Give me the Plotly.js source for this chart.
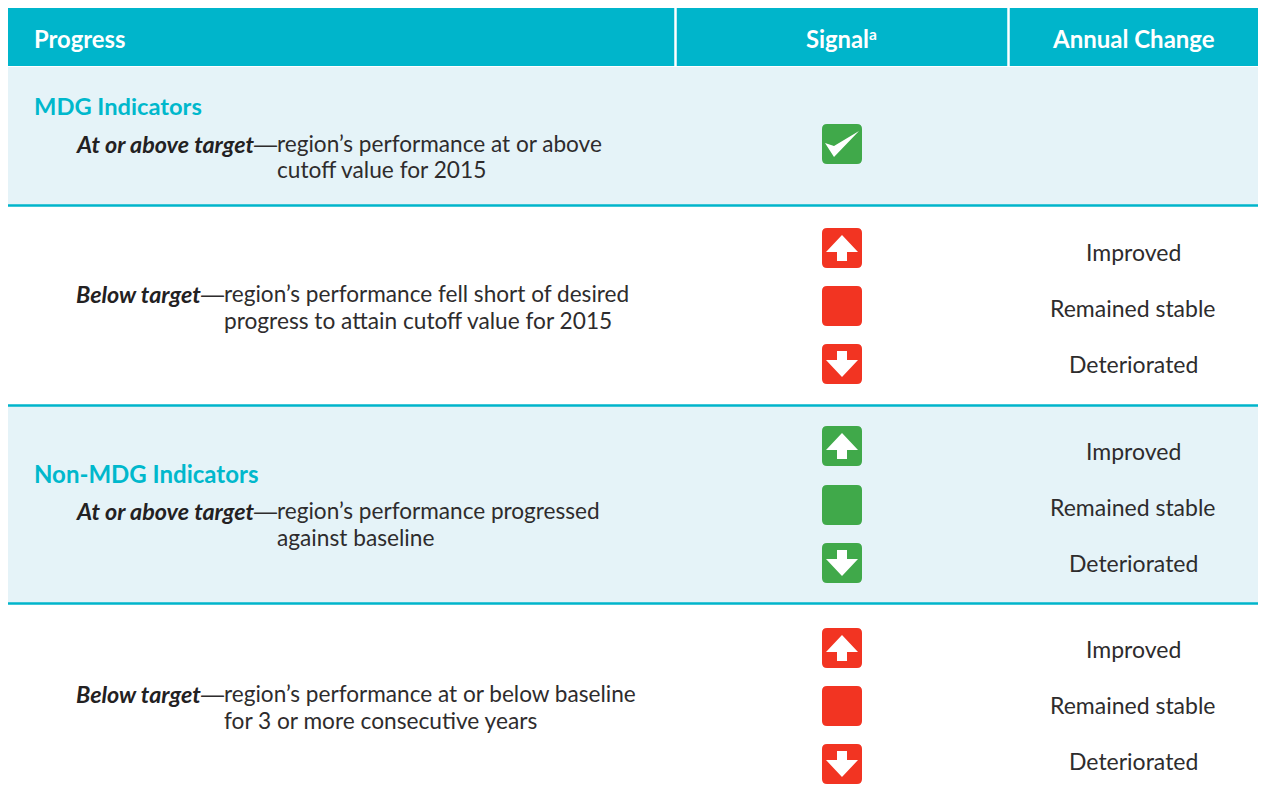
<!DOCTYPE html>
<html><head><meta charset="utf-8">
<script src="https://cdn.plot.ly/plotly-3.0.1.min.js"></script>
<style>html,body{margin:0;padding:0;background:#fff}#c{width:1261px;height:803px}</style>
</head><body><div id="c"></div>
<script>
// ---- content ----
const headers = ["Progress", "Signal", "Annual Change"];
const headerNote = "a";
const groupTitles = ["MDG Indicators", "Non-MDG Indicators"];
const statusLabels = ["At or above target", "Below target", "At or above target", "Below target"];
const statusLine1 = ["region’s performance at or above", "region’s performance fell short of desired", "region’s performance progressed", "region’s performance at or below baseline"];
const statusLine2 = ["cutoff value for 2015", "progress to attain cutoff value for 2015", "against baseline", "for 3 or more consecutive years"];
const changes = ["Improved", "Remained stable", "Deteriorated"];
const sectionSignals = [["check"], ["up", "flat", "down"], ["up", "flat", "down"], ["up", "flat", "down"]];
const sectionColors = ["green", "red", "green", "red"];

// ---- layout constants (page geometry) ----
const P = {left:8, right:1258, headTop:8, headBot:66, col1:675.5, col2:1008.5, iconX:842, iconHalf:20, changeX:1133};
const sectTop = [67, 206, 406, 604];
const sectBot = [205, 405, 603, 803];
const iconY = [[144], [248, 306, 364], [446, 505, 563], [648, 706, 764]];
const changeY = [[], [251.5, 307.5, 363.5], [450.5, 506.5, 562.5], [648.5, 704.5, 760.5]];
const titleY = [105.5, 473.5];
const line1Y = [143.5, 293.5, 510.5, 693.5];
const line2Y = [169.5, 320.5, 537.5, 720.5];
const labelX = 75;
const bodyX = [276, 223, 276, 223];
const C = {teal:"#00B5CB", band:"#E5F3F8", ink:"#2E2C2D", green:"#40A94A", red:"#F23422", title:"#00B8CC"};
const FONT = "Lato, sans-serif";

const shapes = [];
const rect = (x0,y0,x1,y1,fill)=>shapes.push({type:"rect",xref:"x",yref:"y",x0,y0,x1,y1,fillcolor:fill,line:{width:0},layer:"below"});
const hline = (y,w,color)=>shapes.push({type:"line",xref:"x",yref:"y",x0:P.left,x1:P.right,y0:y,y1:y,line:{color,width:w},layer:"above"});
const poly = (pts,fill)=>shapes.push({type:"path",xref:"x",yref:"y",path:"M"+pts.map(p=>p.join(",")).join("L")+"Z",fillcolor:fill,line:{width:0},layer:"above"});

rect(P.left,P.headTop,P.right,P.headBot,C.teal);
[P.col1,P.col2].forEach(x=>shapes.push({type:"line",xref:"x",yref:"y",x0:x,x1:x,y0:P.headTop,y1:P.headBot,line:{color:"#fff",width:2.5},layer:"above"}));
rect(P.left,sectTop[0],P.right,sectBot[0],C.band);
rect(P.left,sectTop[2],P.right,sectBot[2],C.band);
[205.5,405.5,603.5].forEach(y=>hline(y,2.5,C.teal));

function icon(cx,cy,kind,color){
  const h=P.iconHalf, r=5;
  const l=cx-h,R=cx+h,t=cy-h,b=cy+h;
  shapes.push({type:"path",xref:"x",yref:"y",
    path:`M${l+r},${t}L${R-r},${t}Q${R},${t} ${R},${t+r}L${R},${b-r}Q${R},${b} ${R-r},${b}L${l+r},${b}Q${l},${b} ${l},${b-r}L${l},${t+r}Q${l},${t} ${l+r},${t}Z`,
    fillcolor:color,line:{width:0},layer:"above"});
  if(kind==="up"||kind==="down"){
    const s=kind==="up"?1:-1;
    poly([[cx,cy-13*s],[cx+16,cy+4*s],[cx+5,cy+4*s],[cx+5,cy+13*s],[cx-5,cy+13*s],[cx-5,cy+4*s],[cx-16,cy+4*s]],"#fff");
  } else if(kind==="check"){
    poly([[cx-17,cy-1],[cx-8,cy+2],[cx+17,cy-13],[cx-8,cy+13]],"#fff");
  }
}
sectionSignals.forEach((sigs,i)=>sigs.forEach((k,j)=>icon(P.iconX,iconY[i][j],k,sectionColors[i]==="green"?C.green:C.red)));

const ann=[];
const text=(x,y,t,size,color,anchor,family)=>ann.push({xref:"x",yref:"y",x,y,text:t,showarrow:false,xanchor:anchor||"left",yanchor:"middle",align:anchor||"left",font:{family:family||FONT,size,color},borderpad:0});

text(33,38.5,"<b>"+headers[0]+"</b>",23.8,"#fff");
text(837,38.5,"<b>"+headers[1]+"</b>",23.8,"#fff","center");
text(868,33.5,"<b>"+headerNote+"</b>",15.5,"#fff");
text(P.changeX,38.5,"<b>"+headers[2]+"</b>",24,"#fff","center");
text(33,titleY[0],"<b>"+groupTitles[0]+"</b>",23.7,C.title);
text(33,titleY[1],"<b>"+groupTitles[1]+"</b>",24,C.title);
statusLabels.forEach((lab,i)=>{
  text(labelX,line1Y[i],"<b><i>"+lab+"</i></b>",23.3,"#232122");
  text(bodyX[i]-23,line1Y[i],"—",23,C.ink,"left","Liberation Sans");
  text(bodyX[i],line1Y[i],statusLine1[i],22.6,C.ink);
  text(bodyX[i],line2Y[i],statusLine2[i],22.7,C.ink);
});
changeY.forEach(ys=>ys.forEach((y,j)=>text(P.changeX,y,changes[j],23,C.ink,"center")));

Plotly.newPlot("c",[{x:[0],y:[0],mode:"markers",marker:{opacity:0},hoverinfo:"skip",showlegend:false}],{
  width:1261,height:803,margin:{l:0,r:0,t:0,b:0,pad:0},
  paper_bgcolor:"#fff",plot_bgcolor:"#fff",showlegend:false,
  xaxis:{range:[0,1261],visible:false,fixedrange:true},
  yaxis:{range:[803,0],visible:false,fixedrange:true},
  shapes,annotations:ann
},{displayModeBar:false,staticPlot:true});
</script></body></html>
